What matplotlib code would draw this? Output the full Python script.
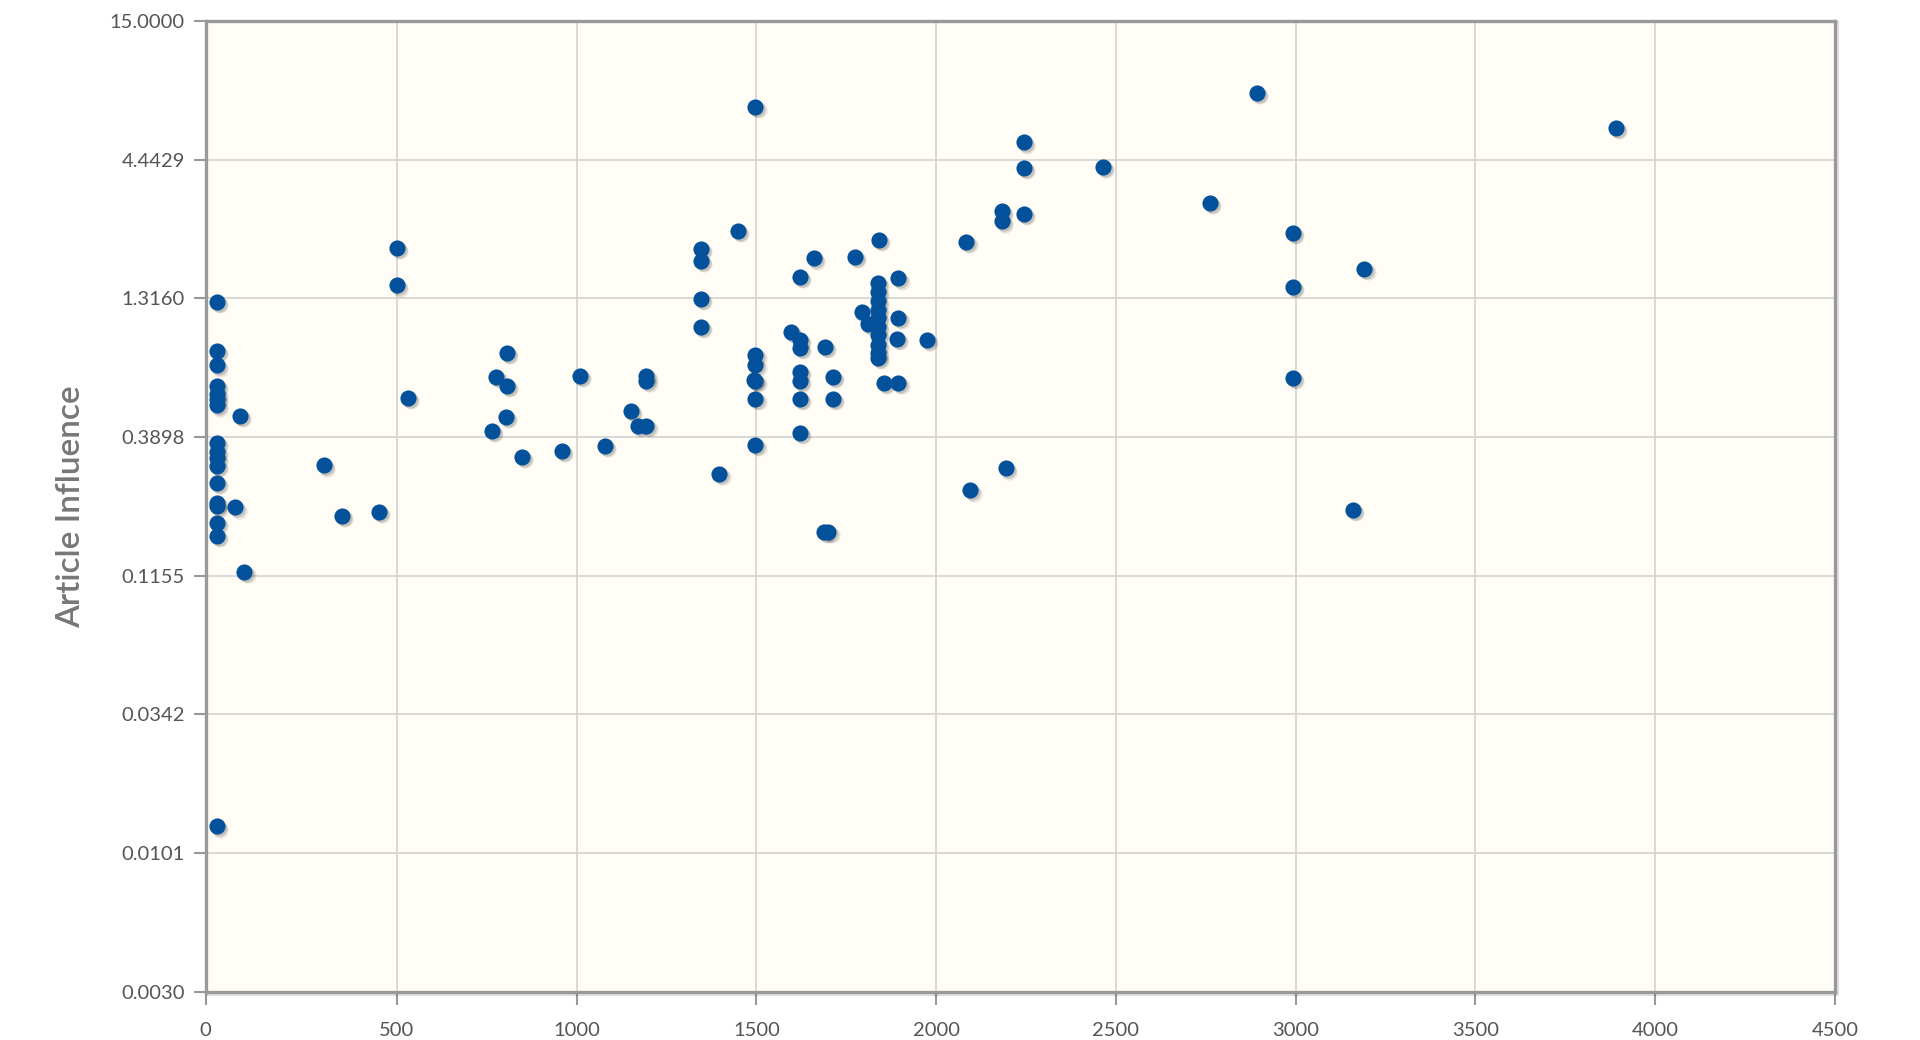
import matplotlib
matplotlib.use("Agg")
import matplotlib.pyplot as plt
from matplotlib.transforms import offset_copy

# journals: x value vs article influence (log scale)
x_vals = [
    0, 0, 0, 0, 0, 0, 0, 0, 0, 0, 0, 0, 0, 0, 0, 0, 0,
    63, 51, 76,
    298, 347, 449,
    500, 500, 530,
    764, 777, 803, 807, 807, 847, 958,
    1009, 1078, 1152, 1170, 1194, 1194, 1194,
    1346, 1346, 1346, 1346,
    1397, 1448,
    1497, 1497, 1497, 1492, 1497, 1497, 1497,
    1596, 1621, 1621, 1621, 1621, 1621, 1621, 1621, 1661, 1691, 1688, 1700, 1713, 1713,
    1774, 1793, 1811,
    1841, 1839, 1839, 1839, 1839, 1839, 1839, 1839, 1839, 1839, 1839,
    1855, 1895, 1895, 1895, 1890, 1975,
    2084, 2095, 2183, 2183, 2194, 2243, 2243, 2243,
    2463, 2761, 2892, 2992, 2992, 2992, 3160, 3191, 3890,
]
y_vals = [
    1.27, 0.832, 0.730, 0.611, 0.570, 0.546, 0.514, 0.369, 0.343, 0.323, 0.303, 0.261, 0.219, 0.212, 0.183, 0.164, 0.0128,
    0.469, 0.210, 0.1197,
    0.304, 0.1955, 0.202,
    2.04, 1.472, 0.549,
    0.410, 0.660, 0.465, 0.812, 0.612, 0.328, 0.345,
    0.665, 0.361, 0.490, 0.428, 0.428, 0.666, 0.636,
    2.03, 1.82, 1.308, 1.023,
    0.281, 2.38,
    7.03, 0.800, 0.733, 0.643, 0.637, 0.544, 0.363,
    0.983, 1.592, 0.913, 0.849, 0.689, 0.637, 0.544, 0.403, 1.866, 0.861, 0.170, 0.170, 0.662, 0.543,
    1.897, 1.164, 1.048,
    2.195, 1.50, 1.396, 1.279, 1.188, 1.104, 1.027, 0.954, 0.874, 0.812, 0.778,
    0.6245, 0.6245, 1.567, 1.104, 0.919, 0.913,
    2.164, 0.244, 2.818, 2.58, 0.296, 2.752, 5.16, 4.12,
    4.15, 3.03, 7.98, 2.34, 1.458, 0.656, 0.205, 1.708, 5.85,
]

x_ticks = [500, 1000, 1500, 2000, 2500, 3000, 3500, 4000, 4500]
x_tick_labels = ["500", "1000", "1500", "2000", "2500", "3000", "3500", "4000", "4500"]
y_ticks = [0.0030, 0.010132, 0.034223, 0.115591, 0.389806, 1.316002, 4.442946, 15.0]
y_tick_labels = ["0.0030", "0.0101", "0.0342", "0.1155", "0.3898", "1.3160", "4.4429", "15.0000"]

XMIN = -32  # axis starts a little left of zero, labelled "0"

plt.rcParams['font.family'] = ['Lato', 'DejaVu Sans']

fig = plt.figure(figsize=(19.2, 10.4), dpi=100)
ax = fig.add_axes([0.1071, 0.0463, 0.8486, 0.9337])
ax.set_facecolor('#fffdf5')

ax.set_yscale('log')
ax.set_xlim(XMIN, 4500)
ax.set_ylim(0.003, 15)

ax.set_xticks([XMIN] + x_ticks)
ax.set_xticklabels(["0"] + x_tick_labels)
ax.set_yticks(y_ticks)
ax.set_yticklabels(y_tick_labels)
ax.yaxis.set_minor_locator(matplotlib.ticker.NullLocator())

ax.tick_params(axis='both', colors='#999999', labelcolor='#555555',
               labelsize=14.5, length=9, width=1.5, direction='out')
ax.tick_params(axis='y', pad=6)
ax.tick_params(axis='x', pad=13)

ax.grid(True, color='#d2d2d2', linewidth=1.2)
ax.set_axisbelow(True)

for sp in ax.spines.values():
    sp.set_color('#999999')
    sp.set_linewidth(2.4)
    sp.set_zorder(5)

# frame shadow on right and bottom
sh = offset_copy(ax.transAxes, fig=fig, x=2.5, y=-2.5, units='dots')
ax.plot([0, 1, 1], [0, 0, 1], transform=sh, color='#000000', alpha=0.12,
        linewidth=3, clip_on=False, zorder=4)

# marker shadows then markers
for dx, a in [(3.2, 0.10), (2.0, 0.15)]:
    tr = offset_copy(ax.transData, fig=fig, x=dx, y=-dx, units='dots')
    ax.scatter(x_vals, y_vals, s=135, color='#000000', alpha=a,
               linewidths=0, transform=tr, zorder=2)
ax.scatter(x_vals, y_vals, s=135, color='#03519b', linewidths=0, zorder=3)

ax.set_ylabel("Article Influence", fontsize=24, color='#777777', fontweight='semibold')
ax.yaxis.set_label_coords(-0.0735, 0.5)

fig.savefig("out.png", dpi=100, facecolor='white')
